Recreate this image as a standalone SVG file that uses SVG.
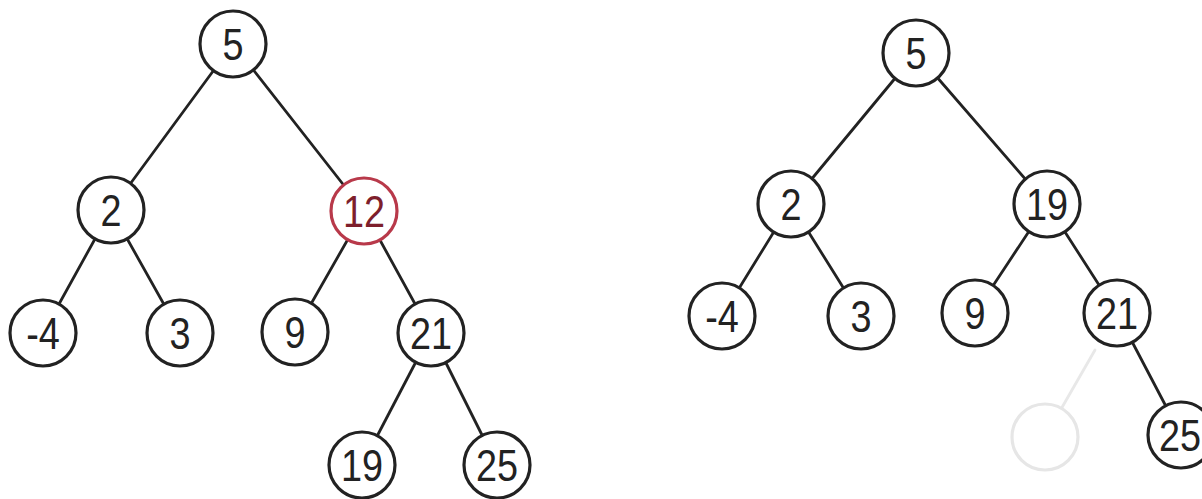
<svg xmlns="http://www.w3.org/2000/svg" width="1202" height="499" viewBox="0 0 1202 499">
<style>
.edge{stroke:#222;stroke-width:2.8;stroke-linecap:round;fill:none}
.ghost-edge{stroke:#e8e8e8;stroke-width:2.8;stroke-linecap:round;fill:none}
.node circle{fill:#fff;stroke:#222;stroke-width:3.2}
.node text{font-family:"Liberation Sans",Arial,sans-serif;font-size:44px;fill:#222;text-anchor:middle}
.node.hl circle{stroke:#b8394a}
.node.hl text{fill:#7e1f2c}
.node.ghost circle{stroke:#e6e6e6}
</style>
<rect width="1202" height="499" fill="#fff"/>
<g id="connectors">
<line class="edge" x1="233" y1="44" x2="111" y2="210"/>
<line class="edge" x1="233" y1="44" x2="364" y2="211"/>
<line class="edge" x1="111" y1="210" x2="43" y2="333"/>
<line class="edge" x1="111" y1="210" x2="180" y2="333"/>
<line class="edge" x1="364" y1="211" x2="295" y2="332"/>
<line class="edge" x1="364" y1="211" x2="431" y2="333"/>
<line class="edge" x1="431" y1="333" x2="362" y2="465"/>
<line class="edge" x1="431" y1="333" x2="497" y2="465"/>
<line class="edge" x1="916" y1="53" x2="791" y2="204"/>
<line class="edge" x1="916" y1="53" x2="1047" y2="204"/>
<line class="edge" x1="791" y1="204" x2="722" y2="316"/>
<line class="edge" x1="791" y1="204" x2="861" y2="316"/>
<line class="edge" x1="1047" y1="204" x2="975" y2="313"/>
<line class="edge" x1="1047" y1="204" x2="1117" y2="313"/>
<line class="ghost-edge" x1="1095" y1="350" x2="1045" y2="437"/>
<line class="edge" x1="1117" y1="313" x2="1181" y2="435"/>
</g>
<g id="L5" class="node"><circle cx="233" cy="44" r="33"/><text transform="translate(233 60) scale(0.86 1)">5</text></g>
<g id="L2" class="node"><circle cx="111" cy="210" r="33"/><text transform="translate(111 226) scale(0.86 1)">2</text></g>
<g id="L12" class="node hl"><circle cx="364" cy="211" r="33"/><text transform="translate(364 227) scale(0.86 1)">12</text></g>
<g id="Lm4" class="node"><circle cx="43" cy="333" r="33"/><text transform="translate(43 349) scale(0.86 1)">-4</text></g>
<g id="L3" class="node"><circle cx="180" cy="333" r="33"/><text transform="translate(180 349) scale(0.86 1)">3</text></g>
<g id="L9" class="node"><circle cx="295" cy="332" r="33"/><text transform="translate(295 348) scale(0.86 1)">9</text></g>
<g id="L21" class="node"><circle cx="431" cy="333" r="33"/><text transform="translate(431 349) scale(0.86 1)">21</text></g>
<g id="L19" class="node"><circle cx="362" cy="465" r="33"/><text transform="translate(362 481) scale(0.86 1)">19</text></g>
<g id="L25" class="node"><circle cx="497" cy="465" r="33"/><text transform="translate(497 481) scale(0.86 1)">25</text></g>
<g id="R5" class="node"><circle cx="916" cy="53" r="33"/><text transform="translate(916 69) scale(0.86 1)">5</text></g>
<g id="R2" class="node"><circle cx="791" cy="204" r="33"/><text transform="translate(791 220) scale(0.86 1)">2</text></g>
<g id="R19" class="node"><circle cx="1047" cy="204" r="33"/><text transform="translate(1047 220) scale(0.86 1)">19</text></g>
<g id="Rm4" class="node"><circle cx="722" cy="316" r="33"/><text transform="translate(722 332) scale(0.86 1)">-4</text></g>
<g id="R3" class="node"><circle cx="861" cy="316" r="33"/><text transform="translate(861 332) scale(0.86 1)">3</text></g>
<g id="R9" class="node"><circle cx="975" cy="313" r="33"/><text transform="translate(975 329) scale(0.86 1)">9</text></g>
<g id="R21" class="node"><circle cx="1117" cy="313" r="33"/><text transform="translate(1117 329) scale(0.86 1)">21</text></g>
<g id="Rghost" class="node ghost"><circle cx="1045" cy="437" r="33"/></g>
<g id="R25" class="node"><circle cx="1181" cy="435" r="33"/><text transform="translate(1180 451) scale(0.86 1)">25</text></g>
</svg>
